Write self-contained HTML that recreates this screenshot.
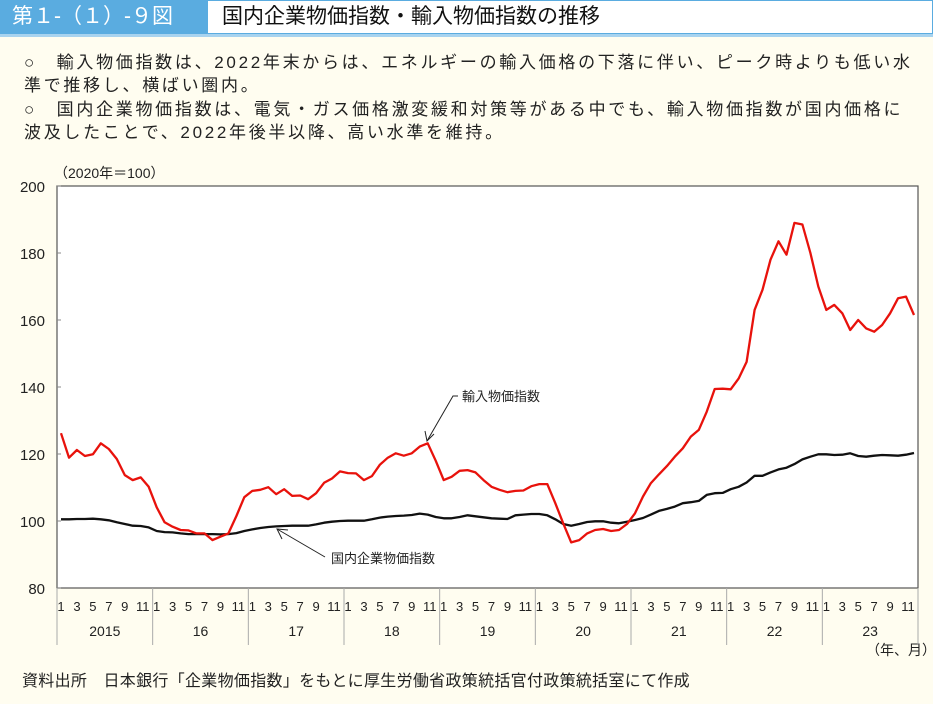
<!DOCTYPE html>
<html><head><meta charset="utf-8">
<style>
body{margin:0;width:933px;height:704px;background:#fffdf0;font-family:"Liberation Sans","Noto Sans CJK JP",sans-serif;overflow:hidden;position:relative}
.t{position:absolute;white-space:nowrap;color:#222}
.sum{font-size:17px;line-height:23px;letter-spacing:2.7px}
</style></head><body>
<div style="position:absolute;left:0;top:0;width:207px;height:34px;background:#5aace0;color:#fff;font-size:21px;line-height:34px;padding-left:12px;box-sizing:border-box">第１-（１）-９図</div>
<div style="position:absolute;left:207px;top:0;width:726px;height:34px;background:#fff;border:1px solid #5aace0;box-sizing:border-box;font-size:21px;line-height:32px;padding-left:14px;color:#111">国内企業物価指数・輸入物価指数の推移</div>
<div style="position:absolute;left:0;top:34px;width:933px;height:3px;background:#a8d3ef"></div>
<div class="t sum" style="left:24px;top:51px">○　輸入物価指数は、2022年末からは、エネルギーの輸入価格の下落に伴い、ピーク時よりも低い水<br>準で推移し、横ばい圏内。</div>
<div class="t sum" style="left:24px;top:98px">○　国内企業物価指数は、電気・ガス価格激変緩和対策等がある中でも、輸入物価指数が国内価格に<br>波及したことで、2022年後半以降、高い水準を維持。</div>
<div class="t" style="left:54px;top:163px;font-size:14px">（2020年＝100）</div>
<div class="t" style="left:866px;top:640px;font-size:14px">（年、月）</div>
<div class="t" style="left:22px;top:667px;font-size:16px;letter-spacing:0.3px">資料出所　日本銀行「企業物価指数」をもとに厚生労働省政策統括官付政策統括室にて作成</div>
<svg id="chart" width="933" height="704" style="position:absolute;left:0;top:0"></svg>
<script>
const years=["2015","16","17","18","19","20","21","22","23"];
const monthTicks=["1","3","5","7","9","11"];
const yTicks=[80,100,120,140,160,180,200];
const importIndex=[126.2,118.9,121.2,119.4,119.9,123.2,121.5,118.5,113.7,112.2,113,110.2,104.1,99.6,98.3,97.3,97.2,96.3,96.3,94.3,95.3,96.3,101.5,107.1,109,109.3,110.1,108,109.5,107.5,107.6,106.5,108.3,111.4,112.7,114.8,114.3,114.2,112.2,113.4,116.8,118.9,120.2,119.5,120.2,122.2,123.2,118,112.2,113.2,115,115.2,114.5,112.2,110.2,109.3,108.6,109,109.1,110.4,111,111,105.3,99.3,93.6,94.3,96.3,97.3,97.6,97,97.3,99.1,102.3,107.3,111.3,113.9,116.4,119.2,121.7,125.2,127.2,132.6,139.4,139.5,139.3,142.5,147.5,163,169,178,183.5,179.5,189,188.5,180,170,163,164.5,162,157,160,157.5,156.5,158.5,162,166.5,167,161.5];
const domesticIndex=[100.5,100.5,100.6,100.6,100.7,100.5,100.2,99.6,99.1,98.6,98.5,98.1,97,96.7,96.6,96.3,96.1,96.1,96.1,96.1,96.0,96.1,96.4,97,97.5,97.9,98.2,98.4,98.5,98.6,98.6,98.6,99,99.5,99.8,100,100.1,100.1,100.1,100.5,101,101.3,101.5,101.6,101.8,102.2,101.9,101.2,100.8,100.8,101.2,101.7,101.4,101.1,100.8,100.7,100.6,101.7,101.9,102.1,102.1,101.7,100.5,99.1,98.6,99.1,99.7,99.9,99.9,99.5,99.3,99.8,100.3,100.9,101.9,103,103.6,104.3,105.3,105.6,106,107.8,108.3,108.4,109.5,110.2,111.5,113.5,113.5,114.5,115.4,115.9,117,118.4,119.2,119.9,119.9,119.7,119.8,120.2,119.4,119.2,119.5,119.7,119.6,119.5,119.8,120.3];
const svg=document.getElementById('chart');const NS='http://www.w3.org/2000/svg';
const L=57,R=918,T=186,B=588,yMin=80,yMax=200;
const blockW=(R-L)/years.length, step=blockW/12;
const xs=i=>L+step*0.5+i*step;
const ys=v=>B-(v-yMin)/(yMax-yMin)*(B-T);
function mk(tag,attrs){const e=document.createElementNS(NS,tag);for(const k in attrs)e.setAttribute(k,attrs[k]);svg.appendChild(e);return e;}
let bg=mk('rect',{x:L,y:T,width:R-L,height:B-T,fill:'#fff',stroke:'#555','stroke-width':1.2});


yTicks.forEach(v=>{
 const t=mk('text',{x:45,y:ys(v)+6,'text-anchor':'end','font-size':15,fill:'#222','font-family':'Liberation Sans, sans-serif'});t.textContent=v;
 
 
 const tk=mk('line',{x1:L,x2:L+4,y1:ys(v),y2:ys(v),stroke:'#888'});
 
 
});
years.forEach((yr,j)=>{
 const x0=L+j*blockW;
 const sep=mk('line',{x1:x0,x2:x0,y1:B,y2:645,stroke:'#aaa'});
 
 
 monthTicks.forEach((m,k)=>{
  const t=mk('text',{x:xs(j*12+k*2)+(m.length>1?2:0),y:611,'text-anchor':'middle','font-size':13,fill:'#222','font-family':'Liberation Sans Narrow, Liberation Sans, sans-serif'});t.textContent=m;
  
  
 });
 const yt=mk('text',{x:x0+blockW/2,y:636,'text-anchor':'middle','font-size':14,fill:'#222','font-family':'Liberation Sans Narrow, Liberation Sans, sans-serif'});yt.textContent=yr;
 
 
});
const sepEnd=mk('line',{x1:R,x2:R,y1:B,y2:645,stroke:'#aaa'});


function line(data,color,name){
 const p=mk('polyline',{points:data.map((v,i)=>xs(i).toFixed(1)+','+ys(v).toFixed(1)).join(' '),fill:'none',stroke:color,'stroke-width':2.3,'stroke-linejoin':'round'});
 
 
}
line(domesticIndex,'#111','domestic-index-line');
line(importIndex,'#e8120c','import-index-line');
function annot(pts,tip,label,lx,ly,name){
 mk('polyline',{points:pts,fill:'none',stroke:'#222','stroke-width':1});
 mk('polyline',{points:tip,fill:'none',stroke:'#222','stroke-width':1});
 const t=mk('text',{x:lx,y:ly,'font-size':13,fill:'#222','font-family':'Liberation Sans, Noto Sans CJK JP, sans-serif'});t.textContent=label;
 
 
}
annot('458,396 453,396 427,441','425,431 427,441 434,434','輸入物価指数',462,401,'import-series-label');
annot('325,557 277,529','282,539 277,529 288,530','国内企業物価指数',331,563,'domestic-series-label');
</script>
</body></html>
